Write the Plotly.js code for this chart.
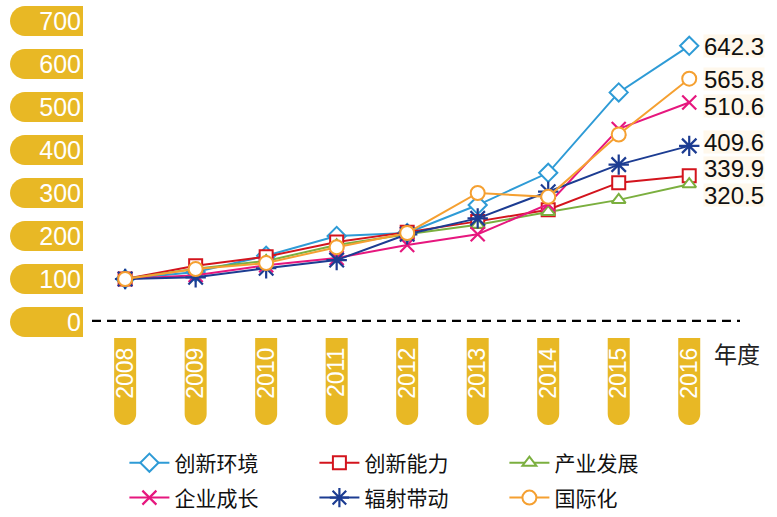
<!DOCTYPE html>
<html>
<head>
<meta charset="utf-8">
<script src="https://cdn.plot.ly/plotly-3.0.1.min.js"></script>
<style>html,body{margin:0;padding:0;background:#fff;}#chart{width:777px;height:517px;}</style>
</head>
<body>
<div id="chart"></div>
<script>
const years = [2008, 2009, 2010, 2011, 2012, 2013, 2014, 2015, 2016];
const seriesNames = ['创新环境', '创新能力', '产业发展', '企业成长', '辐射带动', '国际化'];
const innovEnv   = [100, 116, 154, 200, 207, 272, 347, 534, 642.3];
const innovCap   = [100, 131, 152, 186, 209, 234, 261, 324, 339.9];
const industry   = [100, 124, 142, 179, 204, 226, 256, 284, 320.5];
const enterprise = [100, 109, 132, 149, 179, 204, 274, 449, 510.6];
const radiation  = [100, 104, 125, 144, 204, 241, 303, 366, 409.6];
const intl       = [100, 123, 137, 174, 207, 300, 291, 436, 565.8];
const yTicks = [0, 100, 200, 300, 400, 500, 600, 700];
const xAxisUnit = '年度';

const allSeries = [innovEnv, innovCap, industry, enterprise, radiation, intl];
const colors = ['#2E9BD6', '#D3141D', '#7BAF3F', '#E6177E', '#1C3C92', '#F5A031'];
const symbols = ['diamond', 'square', 'triangle-up', 'x-thin', 'asterisk', 'circle'];
const sizes = [14, 13, 12, 14, 17, 14];
// end-label vertical nudges (px, + is up), in series order
const labelShift = [0, 8, -11, -4, 4, 0];
const YELLOW = '#E8B825';
const Y_MAX = 725.6;

const traces = allSeries.map((vals, i) => {
  const thin = symbols[i] === 'x-thin' || symbols[i] === 'asterisk';
  return {
    type: 'scatter', mode: 'lines+markers', name: seriesNames[i],
    x: years, y: vals,
    legend: i < 3 ? 'legend' : 'legend2',
    line: {color: colors[i], width: 2},
    marker: {symbol: symbols[i], size: sizes[i],
      color: thin ? colors[i] : '#ffffff',
      line: {color: colors[i], width: thin ? 2.2 : 2}},
    hoverinfo: 'x+y+name'
  };
});

const shapes = [];
yTicks.forEach(v => {
  const L = -82, R = -9, h = 15, r = 15, k = 8.28;
  shapes.push({type: 'path', layer: 'below', xref: 'paper', xsizemode: 'pixel', xanchor: 0,
    yref: 'paper', ysizemode: 'pixel', yanchor: v / Y_MAX,
    path: `M${R},${h} L${L+r},${h} C${L+r-k},${h} ${L},${k} ${L},0 C${L},${-k} ${L+r-k},${-h} ${L+r},${-h} L${R},${-h} Z`,
    fillcolor: YELLOW, line: {width: 0}});
});
years.forEach(yr => {
  const w = 11, top = -16, bot = -103, k = 6.07;
  shapes.push({type: 'path', layer: 'below', xref: 'x', xsizemode: 'pixel', xanchor: yr,
    yref: 'paper', ysizemode: 'pixel', yanchor: 0,
    path: `M${-w},${top} L${w},${top} L${w},${bot+w} C${w},${bot+w-k} ${k},${bot} 0,${bot} C${-k},${bot} ${-w},${bot+w-k} ${-w},${bot+w} Z`,
    fillcolor: YELLOW, line: {width: 0}});
});
shapes.push({type: 'line', layer: 'above', xref: 'paper', x0: 0, x1: 1, yref: 'y', y0: 0, y1: 0,
  line: {color: '#000', width: 4.5, dash: '9px,6px'}});

const annotations = allSeries.map((vals, i) => ({
  x: years[years.length - 1], y: vals[vals.length - 1], xref: 'x', yref: 'y',
  text: vals[vals.length - 1].toFixed(1), showarrow: false,
  xanchor: 'left', yanchor: 'middle', xshift: 14, yshift: labelShift[i],
  bgcolor: '#FFF8EC', borderpad: 0, height: 22,
  font: {size: 24, color: '#111', family: 'Liberation Sans, Arial, sans-serif'}
}));
annotations.push({x: 1, xref: 'paper', y: 0, yref: 'paper', yanchor: 'top', xanchor: 'right',
  xshift: 22, yshift: -12, text: xAxisUnit, showarrow: false,
  font: {size: 23, color: '#222', family: 'Noto Sans CJK SC'}});

const legendCommon = {orientation: 'h', xanchor: 'left', yanchor: 'middle', x: 0.05,
  entrywidth: 135, entrywidthmode: 'pixels', itemwidth: 40, bgcolor: 'rgba(0,0,0,0)',
  font: {size: 21, color: '#111', family: 'Noto Sans CJK SC'}, itemclick: false};

const layout = {
  width: 777, height: 517,
  margin: {l: 92, r: 37, t: 10, b: 195, autoexpand: false},
  paper_bgcolor: '#fff', plot_bgcolor: '#fff',
  font: {family: 'Liberation Sans, Arial, Noto Sans CJK SC, sans-serif'},
  showlegend: true,
  legend: Object.assign({}, legendCommon, {y: -0.452}),
  legend2: Object.assign({}, legendCommon, {y: -0.564}),
  xaxis: {range: [2007.53, 2016.72], tickmode: 'array', tickvals: years, ticktext: years.map(String),
    tickangle: -90, showgrid: false, zeroline: false, showline: false, ticks: '', automargin: false,
    ticklabelstandoff: 20, tickfont: {size: 23, color: '#fff', family: 'Liberation Sans, Arial'}},
  yaxis: {range: [0, Y_MAX], tickmode: 'array', tickvals: yTicks, ticktext: yTicks.map(String),
    showgrid: false, zeroline: false, showline: false, ticks: '', automargin: false,
    ticklabelstandoff: 10, tickfont: {size: 25, color: '#fff', family: 'Liberation Sans, Arial'}},
  shapes: shapes,
  annotations: annotations
};

Plotly.newPlot('chart', traces, layout, {displayModeBar: false, staticPlot: true});
</script>
</body>
</html>
